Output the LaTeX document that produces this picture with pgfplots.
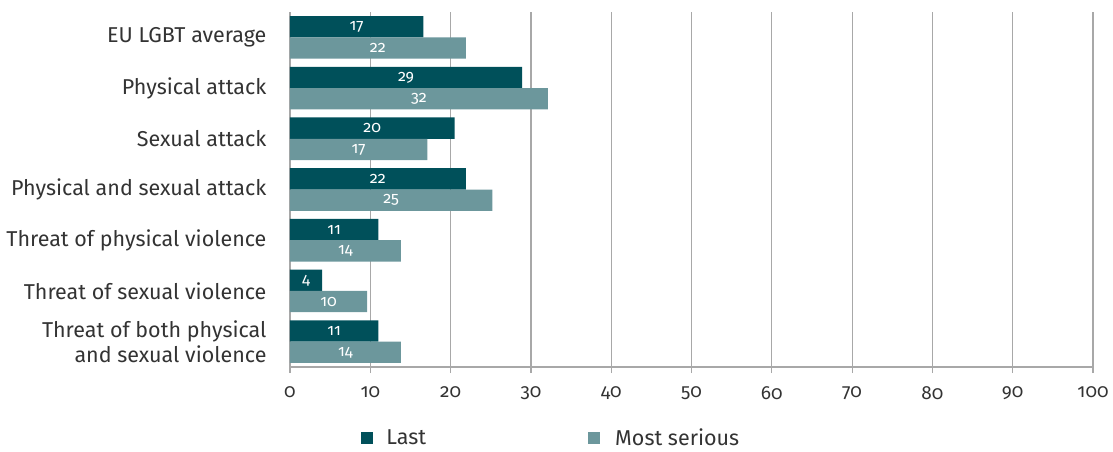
\documentclass[border=0pt]{standalone}
\usepackage{pgfplots}
\pgfplotsset{compat=1.18}
\usepackage{pgfplotstable}
\usepackage{fontspec}
\setmainfont{Fira Sans}[Numbers=OldStyle]
\definecolor{dark}{HTML}{00505A}
\definecolor{light}{HTML}{6C979C}
\definecolor{gridc}{HTML}{A8A8A8}
\definecolor{txt}{HTML}{333333}

\pgfplotstableread{
y last most lastlab mostlab
0 16.6 21.9 17 22
1 28.9 32.1 29 32
2 20.5 17.1 20 17
3 21.9 25.2 22 25
4 11.0 13.8 11 14
5 4.0  9.6  4 10
6 11.0 13.8 11 14
}\datatable

\begin{document}
\begin{tikzpicture}
\begin{axis}[
  name=ax,
  scale only axis,
  width=803pt, height=355pt,
  xmin=0, xmax=100,
  ymin=-0.5, ymax=6.5,
  y dir=reverse,
  axis lines=left,
  axis line style={-, gridc, line width=1.2pt},
  xtick={0,10,...,100},
  xmajorgrids,
  grid style={gridc, line width=1.2pt},
  tick align=outside,
  major tick length=6pt,
  minor tick length=6pt,
  tick style={gridc, line width=1.2pt},
  xticklabel style={font=\fontsize{19}{19}\selectfont, text=txt, yshift=-10pt},
  /pgf/number format/assume math mode=true,
  ytick={0,...,6},
  yticklabels={EU LGBT average, Physical attack, Sexual attack, Physical and sexual attack, Threat of physical violence, Threat of sexual violence, {Threat of both physical\\and sexual violence}},
  yticklabel style={font=\fontsize{21.5}{25}\selectfont, text=txt, align=right, xshift=-14pt},
  ytick style={draw=none},
  minor ytick={-0.5,0.5,...,6.5},
  minor tick style={gridc, line width=1.2pt},
  xbar,
  bar width=0.42,
  nodes near coords,
  every node near coord/.append style={font=\fontsize{16}{16}\selectfont, text=white, anchor=center, xshift={-4.015pt*\barlen}},
  legend columns=2,
  legend style={draw=none, at={(rel axis cs:0.085,-0.2)}, anchor=west, font=\fontsize{21.5}{21.5}\selectfont, text=txt,
    /tikz/every even column/.append style={column sep=160pt}},
  legend image code/.code={\fill[#1] (0pt,-6pt) rectangle (12pt,6pt);},
]
\addplot[fill=dark, draw=none, bar shift=-0.21,
  visualization depends on={\thisrow{last} \as \barlen},
  point meta=explicit symbolic]
  table[x=last, y=y, meta=lastlab] {\datatable};
\addlegendentry{\hspace{11pt}Last}
\addplot[fill=light, draw=none, bar shift=0.21,
  visualization depends on={\thisrow{most} \as \barlen},
  point meta=explicit symbolic]
  table[x=most, y=y, meta=mostlab] {\datatable};
\addlegendentry{\hspace{13pt}Most serious}
\end{axis}
\path (ax.south west) ++(-290pt,-80pt) rectangle ++(1113pt,447pt);
\end{tikzpicture}
\end{document}
